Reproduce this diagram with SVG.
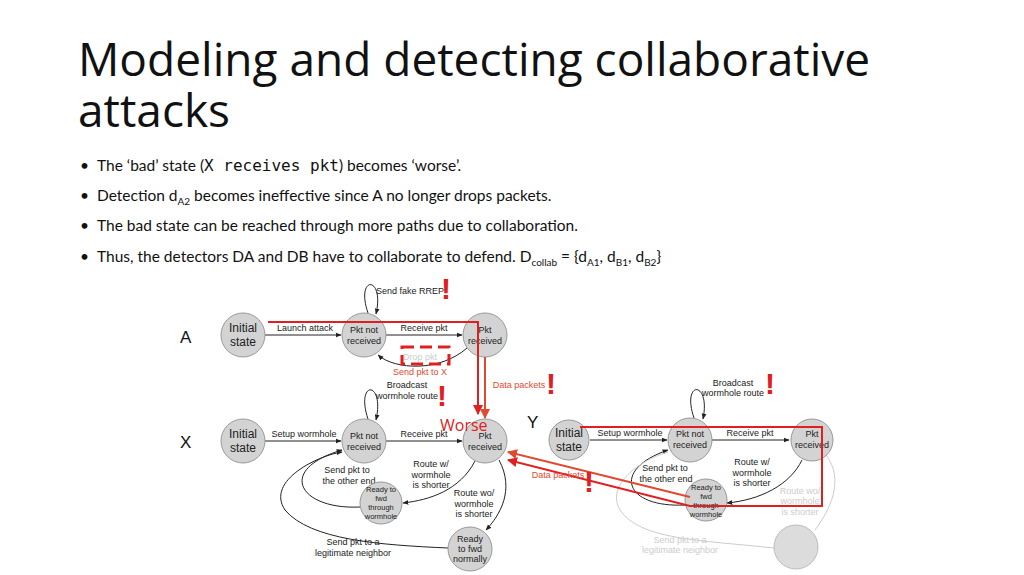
<svg xmlns="http://www.w3.org/2000/svg" width="1024" height="575" viewBox="0 0 1024 575">
<defs>
<marker id="ah" viewBox="0 0 10 10" refX="9" refY="5" markerWidth="6" markerHeight="6" orient="auto"><path d="M0,1 L10,5 L0,9 z" fill="#222"/></marker>
<marker id="ar" viewBox="0 0 10 10" refX="9" refY="5" markerWidth="5" markerHeight="5" orient="auto"><path d="M0,0 L10,5 L0,10 z" fill="#e02020"/></marker>
<marker id="ao" viewBox="0 0 10 10" refX="9" refY="5" markerWidth="5" markerHeight="5" orient="auto"><path d="M0,0 L10,5 L0,10 z" fill="#e04a30"/></marker>
</defs>
<style>
.t{font-family:"Open Sans","Liberation Sans",sans-serif;fill:#111}
.b{font-family:Lato,"Liberation Sans",sans-serif;font-size:15.5px;fill:#111}
.n{fill:#d3d3d3;stroke:#999;stroke-width:1}
.ng{fill:#dcdcdc;stroke:#bbb;stroke-width:1}
.l{font-family:"Liberation Sans",Arial,sans-serif;font-size:9px;fill:#222;text-anchor:middle}
.s{font-family:"Liberation Sans",Arial,sans-serif;font-size:12px;fill:#222;text-anchor:middle}
.xs{font-family:"Liberation Sans",Arial,sans-serif;font-size:7.5px;fill:#222;text-anchor:middle}
.g{font-family:"Liberation Sans",Arial,sans-serif;font-size:9px;fill:#ccc;text-anchor:middle}
.e{stroke:#222;stroke-width:1;fill:none;marker-end:url(#ah)}
.eg{stroke:#ccc;stroke-width:1;fill:none}
.red{stroke:#e02020;stroke-width:2;fill:none}
.ex{font-family:"Liberation Sans",Arial,sans-serif;font-size:30px;font-weight:bold;fill:#e02020;text-anchor:middle}
.rt{font-family:"Liberation Sans",Arial,sans-serif;font-size:9px;fill:#e04a30;text-anchor:middle}
.big{font-family:"Liberation Sans",Arial,sans-serif;font-size:17px;fill:#111}
</style>
<rect width="1024" height="575" fill="#fff"/>
<text class="t" x="78" y="76" font-size="46">Modeling and detecting collaborative</text>
<text class="t" x="78" y="127" font-size="46">attacks</text>
<g class="b">
<text x="80" y="171">•</text><text x="97" y="171">The ‘bad’ state (<tspan font-family="'DejaVu Sans Mono',monospace" font-size="16">X receives pkt</tspan>) becomes ‘worse’.</text>
<text x="80" y="201">•</text><text x="97" y="201">Detection d<tspan font-size="10" dy="4">A2</tspan><tspan dy="-4"> becomes ineffective since A no longer drops packets.</tspan></text>
<text x="80" y="231">•</text><text x="97" y="231">The bad state can be reached through more paths due to collaboration.</text>
<text x="80" y="262">•</text><text x="97" y="262">Thus, the detectors DA and DB have to collaborate to defend. D<tspan font-size="10" dy="4">collab</tspan><tspan dy="-4"> = {d</tspan><tspan font-size="10" dy="4">A1</tspan><tspan dy="-4">, d</tspan><tspan font-size="10" dy="4">B1</tspan><tspan dy="-4">, d</tspan><tspan font-size="10" dy="4">B2</tspan><tspan dy="-4">}</tspan></text>
</g>
<text class="big" x="180" y="343">A</text>
<text class="big" x="180" y="448">X</text>
<text class="big" x="527" y="428">Y</text>
<g id="connectors">
<line class="e" x1="265" y1="335" x2="341" y2="335"/><text class="l" x="305" y="331">Launch attack</text>
<line class="e" x1="386" y1="335" x2="462" y2="335"/><text class="l" x="424" y="331">Receive pkt</text>
<path class="e" d="M368,313 C355,275 385,275 376,314"/><text class="l" x="410" y="294">Send fake RREP</text>
<path class="e" d="M467,348 C440,372 395,370 378,355"/>
<text class="g" x="420" y="360">Drop pkt</text>
<text class="rt" x="420" y="375">Send pkt to X</text>
<line class="e" x1="265" y1="441" x2="341" y2="441"/><text class="l" x="304" y="437">Setup wormhole</text>
<line class="e" x1="386" y1="441" x2="462" y2="441"/><text class="l" x="424" y="437">Receive pkt</text>
<path class="e" d="M368,419 C355,380 385,380 376,420"/><text class="l" x="407" y="388">Broadcast</text><text class="l" x="407" y="399">wormhole route</text>
<path class="e" d="M475,461 C460,490 430,500 403,503"/><text class="l" x="431" y="467">Route w/</text><text class="l" x="431" y="478">wormhole</text><text class="l" x="431" y="488">is shorter</text>
<path class="e" d="M499,460 C515,490 500,515 486,530"/><text class="l" x="474" y="496">Route wo/</text><text class="l" x="474" y="507">wormhole</text><text class="l" x="474" y="517">is shorter</text>
<path class="e" d="M360,507 C300,510 275,470 342,450"/><text class="l" x="347" y="473">Send pkt to</text><text class="l" x="349" y="484">the other end</text>
<path class="e" d="M448,548 C380,545 310,540 285,510 C265,480 320,455 342,452"/><text class="l" x="353" y="545">Send pkt to a</text><text class="l" x="353" y="556">legitimate neighbor</text>
<line class="e" x1="590" y1="440" x2="667" y2="440"/><text class="l" x="630" y="436">Setup wormhole</text>
<line class="e" x1="712" y1="440" x2="789" y2="440"/><text class="l" x="750" y="436">Receive pkt</text>
<path class="e" d="M694,418 C681,380 711,380 703,419"/><text class="l" x="733" y="386">Broadcast</text><text class="l" x="733" y="396">wormhole route</text>
<path class="e" d="M802,460 C790,485 760,500 727,503"/><text class="l" x="752" y="465">Route w/</text><text class="l" x="752" y="476">wormhole</text><text class="l" x="752" y="486">is shorter</text>
<path class="e" d="M685,505 C625,508 610,470 668,450"/><text class="l" x="665" y="471">Send pkt to</text><text class="l" x="666" y="482">the other end</text>
<path class="eg" d="M826,455 C845,480 830,510 815,530"/><text class="g" x="800" y="494">Route wo/</text><text class="g" x="800" y="504">wormhole</text><text class="g" x="800" y="515">is shorter</text>
<path class="eg" d="M774,548 C700,540 640,540 620,510 C605,485 640,460 668,452"/><text class="g" x="680" y="543">Send pkt to a</text><text class="g" x="680" y="553">legitimate neighbor</text>
</g>
<g id="nA0"><circle class="n" cx="243" cy="335" r="22"/><text class="s" x="243" y="332">Initial</text><text class="s" x="243" y="346">state</text></g>
<g id="nA1"><circle class="n" cx="364" cy="335" r="22"/><text class="l" x="364" y="333">Pkt not</text><text class="l" x="364" y="344">received</text></g>
<g id="nA2"><circle class="n" cx="485" cy="335" r="22"/><text class="l" x="485" y="333">Pkt</text><text class="l" x="485" y="344">received</text></g>
<g id="nX0"><circle class="n" cx="243" cy="441" r="22"/><text class="s" x="243" y="438">Initial</text><text class="s" x="243" y="452">state</text></g>
<g id="nX1"><circle class="n" cx="364" cy="441" r="22"/><text class="l" x="364" y="439">Pkt not</text><text class="l" x="364" y="450">received</text></g>
<g id="nX2"><circle class="n" cx="485" cy="441" r="22"/><text class="l" x="485" y="439">Pkt</text><text class="l" x="485" y="450">received</text></g>
<g id="nX3"><circle class="n" cx="381" cy="503" r="21"/><text class="xs" x="381" y="492">Ready to</text><text class="xs" x="381" y="501">fwd</text><text class="xs" x="381" y="510">through</text><text class="xs" x="381" y="519">wormhole</text></g>
<g id="nX4"><circle class="n" cx="470" cy="549" r="22"/><text class="l" x="470" y="542">Ready</text><text class="l" x="470" y="552">to fwd</text><text class="l" x="470" y="562">normally</text></g>
<g id="nY0"><circle class="n" cx="569" cy="440" r="20"/><text class="s" x="569" y="437">Initial</text><text class="s" x="569" y="451">state</text></g>
<g id="nY1"><circle class="n" cx="690" cy="440" r="22"/><text class="l" x="690" y="437">Pkt not</text><text class="l" x="690" y="448">received</text></g>
<g id="nY2"><circle class="n" cx="812" cy="440" r="21"/><text class="l" x="812" y="437">Pkt</text><text class="l" x="812" y="448">received</text></g>
<g id="nY3"><circle class="n" cx="706" cy="500" r="21"/><text class="xs" x="706" y="490">Ready to</text><text class="xs" x="706" y="499">fwd</text><text class="xs" x="706" y="508">through</text><text class="xs" x="706" y="517">wormhole</text></g>
<g id="nY4"><circle class="ng" cx="796" cy="547" r="22"/></g>
<g id="overlay">
<path class="red" d="M268,322 L478,322 L478,414" marker-end="url(#ar)"/>
<line x1="485" y1="357" x2="485" y2="418" stroke="#e04a30" stroke-width="2" marker-end="url(#ao)"/>
<text class="rt" x="519" y="388">Data packets</text>
<rect x="402" y="347" width="47" height="17" fill="none" stroke="#e02020" stroke-width="3" stroke-dasharray="12,6"/>
<path class="red" d="M580,427 L822,427 L822,506 L690,506 L508,460" marker-end="url(#ar)"/>
<line x1="690" y1="497" x2="508" y2="452" stroke="#e04a30" stroke-width="2" marker-end="url(#ao)"/>
<text class="rt" x="558" y="478">Data packets</text>
<text class="ex" x="446" y="299">!</text>
<text class="ex" x="442" y="406">!</text>
<text class="ex" x="551" y="394">!</text>
<text class="ex" x="770" y="394">!</text>
<text class="ex" x="589" y="492">!</text>
<text x="440" y="431" font-family="'Open Sans',sans-serif" font-size="16" fill="#e02020">Worse</text>
</g>
</svg>
